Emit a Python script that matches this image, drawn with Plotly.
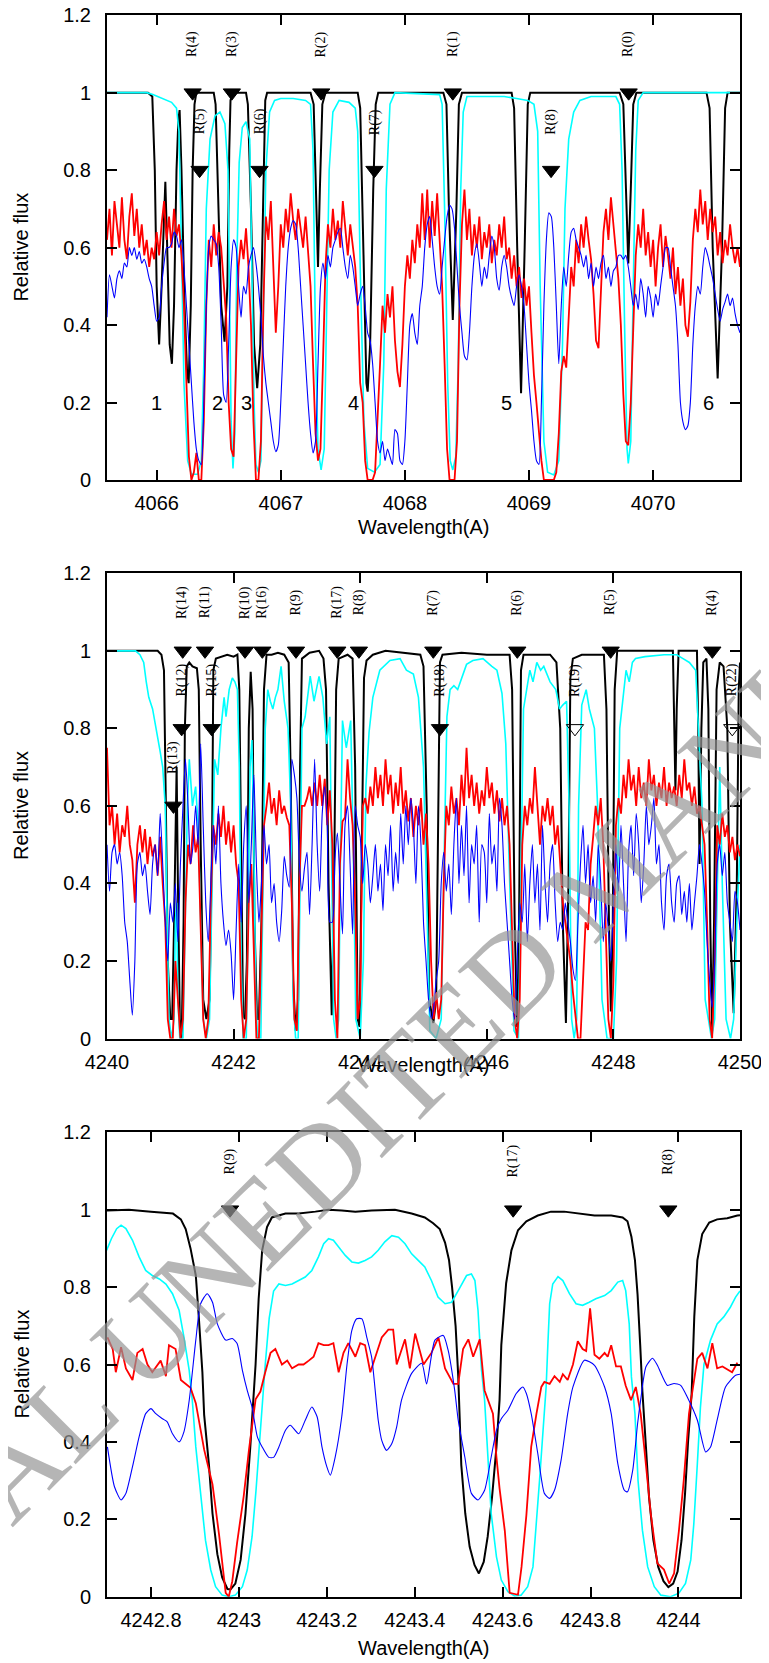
import plotly.graph_objects as go

# ---------------- Panel 1 (4065.6 - 4070.7) ----------------
p1_black = [(4065.60,1.0),(4065.93,1.0),(4065.965,0.99),(4065.985,0.8),(4066.0,0.5),(4066.02,0.35),(4066.04,0.5),
 (4066.06,0.72),(4066.07,0.77),(4066.085,0.6),(4066.105,0.35),(4066.123,0.30),(4066.14,0.45),(4066.16,0.8),
 (4066.175,0.93),(4066.185,0.955),(4066.2,0.8),(4066.225,0.45),(4066.245,0.28),(4066.258,0.25),(4066.275,0.45),
 (4066.29,0.8),(4066.305,0.97),(4066.32,1.0),(4066.46,1.0),(4066.475,0.97),(4066.495,0.75),(4066.52,0.45),
 (4066.547,0.357),(4066.57,0.5),(4066.585,0.85),(4066.595,0.98),(4066.61,1.0),(4066.72,1.0),(4066.735,0.97),
 (4066.76,0.7),(4066.785,0.35),(4066.81,0.237),(4066.835,0.35),(4066.86,0.8),(4066.875,0.98),(4066.89,1.0),
 (4067.24,1.0),(4067.265,0.97),(4067.285,0.75),(4067.30,0.55),(4067.315,0.75),(4067.335,0.97),(4067.36,1.0),
 (4067.62,1.0),(4067.64,0.96),(4067.665,0.6),(4067.69,0.25),(4067.70,0.228),(4067.72,0.35),(4067.745,0.75),
 (4067.765,0.97),(4067.785,1.0),(4068.31,1.0),(4068.335,0.97),(4068.355,0.7),(4068.386,0.413),(4068.415,0.7),
 (4068.435,0.97),(4068.46,1.0),(4068.86,1.0),(4068.88,0.96),(4068.905,0.6),(4068.936,0.224),(4068.965,0.6),
 (4068.99,0.97),(4069.01,1.0),(4069.73,1.0),(4069.76,0.97),(4069.78,0.75),(4069.80,0.559),(4069.82,0.75),
 (4069.84,0.97),(4069.865,1.0),(4070.43,1.0),(4070.455,0.96),(4070.48,0.6),(4070.52,0.262),(4070.555,0.6),
 (4070.58,0.96),(4070.6,1.0),(4070.7,1.0)]

p1_cyan = [(4065.6,1.0),(4065.92,1.0),(4065.97,0.995),(4066.05,0.985),(4066.12,0.975),(4066.16,0.96),(4066.18,0.9),
 (4066.2,0.6),(4066.22,0.25),(4066.25,0.05),(4066.28,0.015),(4066.33,0.015),(4066.36,0.05),(4066.38,0.3),
 (4066.40,0.7),(4066.43,0.88),(4066.47,0.94),(4066.51,0.95),(4066.55,0.92),(4066.575,0.8),(4066.59,0.45),
 (4066.60,0.15),(4066.615,0.03),(4066.63,0.12),(4066.645,0.55),(4066.665,0.82),(4066.69,0.91),(4066.72,0.925),
 (4066.75,0.88),(4066.765,0.6),(4066.785,0.2),(4066.80,0.04),(4066.82,0.02),(4066.84,0.05),(4066.86,0.4),
 (4066.88,0.8),(4066.91,0.95),(4066.95,0.98),(4067.0,0.985),(4067.1,0.985),(4067.2,0.98),(4067.24,0.97),
 (4067.26,0.85),(4067.28,0.35),(4067.30,0.08),(4067.325,0.026),(4067.35,0.08),(4067.37,0.4),(4067.39,0.8),
 (4067.42,0.95),(4067.47,0.98),(4067.55,0.975),(4067.6,0.96),(4067.62,0.9),(4067.64,0.55),(4067.67,0.15),
 (4067.70,0.03),(4067.755,0.02),(4067.80,0.04),(4067.83,0.3),(4067.85,0.75),(4067.88,0.97),(4067.92,1.0),
 (4068.28,0.995),(4068.30,0.97),(4068.32,0.7),(4068.345,0.25),(4068.365,0.05),(4068.386,0.026),(4068.41,0.06),
 (4068.43,0.3),(4068.45,0.75),(4068.47,0.95),(4068.5,0.99),(4068.8,0.99),(4068.9,0.985),(4068.99,0.98),
 (4069.04,0.97),(4069.07,0.9),(4069.09,0.5),(4069.12,0.1),(4069.15,0.02),(4069.2,0.013),(4069.24,0.05),
 (4069.27,0.35),(4069.29,0.7),(4069.32,0.88),(4069.36,0.95),(4069.41,0.98),(4069.5,0.99),(4069.7,0.99),
 (4069.73,0.97),(4069.75,0.8),(4069.77,0.4),(4069.79,0.08),(4069.80,0.043),(4069.82,0.1),(4069.84,0.5),
 (4069.86,0.85),(4069.88,0.98),(4069.92,1.0),(4070.7,1.0)]

P1_GRID_START = 4065.60
P1_GRID_STEP = 0.02
p1_red = [
 0.62,0.70,0.58,0.72,0.66,0.60,0.73,0.62,0.57,0.68,
 0.74,0.63,0.70,0.60,0.66,0.58,0.62,0.55,0.60,0.57,
 0.64,0.58,0.66,0.72,0.62,0.68,0.60,0.70,0.63,0.66,
 0.58,0.45,0.25,0.06,0.0,0.02,0.07,0.0,0.0,0.15,
 0.45,0.62,0.55,0.66,0.58,0.64,0.60,0.50,0.42,0.2,
 0.08,0.06,0.3,0.55,0.62,0.57,0.65,0.55,0.40,0.15,
 0.0,0.0,0.1,0.45,0.68,0.62,0.72,0.55,0.38,0.5,
 0.66,0.60,0.70,0.64,0.74,0.67,0.62,0.70,0.65,0.60,
 0.68,0.58,0.50,0.30,0.12,0.05,0.08,0.3,0.55,0.66,
 0.60,0.70,0.62,0.67,0.60,0.72,0.64,0.58,0.66,0.60,
 0.55,0.45,0.25,0.20,0.05,0.0,0.0,0.0,0.02,0.15,
 0.3,0.45,0.38,0.48,0.42,0.5,0.36,0.28,0.24,0.35,
 0.5,0.58,0.52,0.62,0.56,0.66,0.60,0.74,0.62,0.75,
 0.60,0.72,0.63,0.74,0.60,0.5,0.3,0.08,0.0,0.0,
 0.0,0.1,0.45,0.66,0.75,0.62,0.70,0.58,0.66,0.60,
 0.68,0.57,0.64,0.60,0.66,0.56,0.62,0.58,0.66,0.60,
 0.68,0.57,0.60,0.52,0.58,0.50,0.55,0.47,0.52,0.45,
 0.50,0.38,0.27,0.20,0.12,0.05,0.0,0.0,0.0,0.0,
 0.0,0.02,0.12,0.28,0.32,0.29,0.42,0.55,0.50,0.62,
 0.56,0.66,0.60,0.68,0.62,0.57,0.48,0.36,0.34,0.5,
 0.64,0.70,0.62,0.73,0.66,0.60,0.52,0.40,0.22,0.10,
 0.09,0.2,0.42,0.58,0.66,0.60,0.70,0.58,0.64,0.55,
 0.62,0.50,0.60,0.66,0.55,0.63,0.58,0.52,0.60,0.48,
 0.55,0.45,0.52,0.40,0.37,0.46,0.62,0.70,0.64,0.75,
 0.66,0.72,0.62,0.70,0.64,0.68,0.58,0.64,0.56,0.62,
 0.58,0.66,0.60,0.56,0.60,0.55]

p1_blue = [
 0.42,0.53,0.50,0.47,0.52,0.54,0.52,0.56,0.55,0.60,
 0.58,0.60,0.57,0.59,0.56,0.57,0.55,0.52,0.50,0.45,
 0.41,0.42,0.50,0.56,0.60,0.60,0.61,0.64,0.63,0.60,
 0.62,0.55,0.45,0.35,0.25,0.15,0.08,0.05,0.04,0.2,
 0.45,0.6,0.63,0.62,0.61,0.55,0.4,0.22,0.2,0.35,
 0.55,0.62,0.6,0.5,0.42,0.5,0.48,0.55,0.58,0.6,
 0.56,0.5,0.42,0.32,0.25,0.2,0.15,0.1,0.073,0.09,
 0.2,0.35,0.5,0.6,0.65,0.67,0.66,0.6,0.5,0.4,
 0.3,0.2,0.12,0.07,0.1,0.3,0.5,0.56,0.52,0.58,
 0.55,0.6,0.62,0.64,0.65,0.6,0.55,0.52,0.58,0.55,
 0.5,0.45,0.48,0.5,0.45,0.38,0.36,0.3,0.2,0.1,
 0.07,0.1,0.05,0.08,0.06,0.04,0.13,0.12,0.05,0.04,
 0.1,0.25,0.4,0.43,0.38,0.35,0.45,0.5,0.6,0.66,
 0.68,0.62,0.55,0.5,0.48,0.55,0.62,0.68,0.71,0.7,
 0.65,0.55,0.45,0.38,0.32,0.31,0.38,0.5,0.58,0.61,
 0.56,0.5,0.55,0.52,0.58,0.63,0.6,0.52,0.49,0.55,
 0.58,0.55,0.5,0.47,0.45,0.5,0.53,0.5,0.45,0.35,
 0.25,0.18,0.1,0.05,0.04,0.2,0.45,0.62,0.69,0.68,
 0.6,0.45,0.3,0.45,0.55,0.5,0.58,0.64,0.65,0.62,
 0.6,0.58,0.55,0.58,0.52,0.56,0.5,0.55,0.52,0.56,
 0.58,0.52,0.55,0.5,0.54,0.55,0.58,0.58,0.57,0.58,
 0.55,0.5,0.45,0.48,0.44,0.52,0.48,0.42,0.5,0.47,
 0.42,0.48,0.45,0.5,0.55,0.6,0.6,0.55,0.5,0.45,
 0.35,0.2,0.15,0.13,0.14,0.2,0.35,0.45,0.5,0.48,
 0.55,0.6,0.58,0.55,0.52,0.48,0.44,0.41,0.44,0.46,
 0.48,0.45,0.47,0.43,0.40,0.38]

p1_marks_top = [("R(4)",4066.29),("R(3)",4066.606),("R(2)",4067.326),("R(1)",4068.386),("R(0)",4069.803)]
p1_marks_low = [("R(5)",4066.346),("R(6)",4066.829),("R(7)",4067.755),("R(8)",4069.178)]
p1_numbers = [("1",4066.0),("2",4066.49),("3",4066.72),("4",4067.59),("5",4068.82),("6",4070.45)]

# ---------------- Panel 2 (4240 - 4250) ----------------
p2_black = [(4240.00,1.0),(4240.80,1.0),(4240.86,0.99),(4240.90,0.95),(4240.93,0.6),(4240.96,0.2),(4241.00,0.05),
 (4241.03,0.05),(4241.06,0.3),(4241.09,0.68),(4241.10,0.7),(4241.12,0.4),(4241.15,0.05),(4241.18,0.0),
 (4241.21,0.3),(4241.23,0.8),(4241.26,0.96),(4241.30,0.97),(4241.35,0.96),(4241.42,0.955),(4241.45,0.9),
 (4241.48,0.5),(4241.52,0.1),(4241.57,0.05),(4241.62,0.1),(4241.66,0.5),(4241.68,0.95),(4241.72,0.98),
 (4241.80,0.985),(4241.90,0.99),(4242.00,0.985),(4242.06,0.99),(4242.09,0.9),(4242.12,0.4),(4242.15,0.06),
 (4242.18,0.05),(4242.21,0.2),(4242.24,0.8),(4242.27,0.946),(4242.30,0.85),(4242.33,0.3),(4242.37,0.05),
 (4242.40,0.05),(4242.44,0.3),(4242.48,0.9),(4242.52,0.99),(4242.60,0.99),(4242.70,0.995),(4242.80,0.99),
 (4242.87,0.97),(4242.90,0.7),(4242.94,0.15),(4242.98,0.02),(4243.02,0.1),(4243.05,0.7),(4243.08,0.98),
 (4243.20,0.995),(4243.35,1.0),(4243.42,0.98),(4243.46,0.9),(4243.50,0.4),(4243.55,0.06),(4243.59,0.45),
 (4243.62,0.9),(4243.66,0.98),(4243.80,0.99),(4243.88,0.98),(4243.92,0.7),(4243.96,0.05),(4243.99,0.03),
 (4244.02,0.4),(4244.06,0.93),(4244.10,0.975),(4244.20,0.99),(4244.40,1.0),(4244.95,0.99),(4245.0,0.96),
 (4245.05,0.6),(4245.09,0.1),(4245.155,0.04),(4245.2,0.1),(4245.23,0.6),(4245.26,0.97),(4245.3,0.99),
 (4245.6,0.995),(4246.0,0.99),(4246.36,0.99),(4246.40,0.9),(4246.44,0.3),(4246.48,0.03),(4246.51,0.3),
 (4246.54,0.95),(4246.58,0.99),(4247.0,0.99),(4247.1,0.97),(4247.16,0.8),(4247.2,0.3),(4247.25,0.04),
 (4247.29,0.4),(4247.32,0.93),(4247.36,0.98),(4247.5,0.99),(4247.85,0.99),(4247.89,0.85),(4247.93,0.3),
 (4247.96,0.07),(4247.99,0.3),(4248.02,0.9),(4248.06,1.0),(4248.94,1.0),(4248.96,0.85),(4248.98,0.64),
 (4249.0,0.85),(4249.03,1.0),(4249.32,1.0),(4249.34,0.8),(4249.36,0.45),(4249.39,0.8),(4249.42,0.97),
 (4249.47,0.98),(4249.5,0.85),(4249.53,0.3),(4249.56,0.02),(4249.59,0.3),(4249.63,0.9),(4249.68,0.97),
 (4249.74,0.96),(4249.80,0.8),(4249.84,0.3),(4249.90,0.065),(4249.95,0.4),(4249.98,0.9),(4250.0,0.97)]

p2_cyan = [(4240.00,1.0),(4240.45,1.0),(4240.52,0.99),(4240.58,0.97),(4240.62,0.92),(4240.66,0.88),(4240.72,0.85),
 (4240.78,0.8),(4240.84,0.74),(4240.88,0.7),(4240.92,0.6),(4240.95,0.3),(4240.98,0.05),(4241.02,0.0),
 (4241.06,0.05),(4241.08,0.3),(4241.1,0.35),(4241.12,0.1),(4241.15,0.0),(4241.2,0.0),(4241.24,0.3),
 (4241.27,0.6),(4241.30,0.72),(4241.35,0.6),(4241.40,0.65),(4241.44,0.55),(4241.48,0.3),(4241.52,0.05),
 (4241.57,0.0),(4241.62,0.05),(4241.66,0.4),(4241.70,0.72),(4241.75,0.68),(4241.80,0.8),(4241.85,0.88),
 (4241.88,0.83),(4241.93,0.9),(4241.98,0.93),(4242.02,0.92),(4242.06,0.9),(4242.09,0.7),(4242.12,0.2),
 (4242.15,0.0),(4242.2,0.0),(4242.23,0.3),(4242.26,0.7),(4242.29,0.77),(4242.32,0.5),(4242.35,0.1),
 (4242.38,0.0),(4242.43,0.0),(4242.47,0.4),(4242.50,0.8),(4242.54,0.9),(4242.58,0.87),(4242.62,0.85),
 (4242.66,0.88),(4242.70,0.9),(4242.75,0.96),(4242.80,0.87),(4242.86,0.8),(4242.90,0.61),(4242.94,0.1),
 (4242.98,0.0),(4243.02,0.0),(4243.05,0.4),(4243.08,0.8),(4243.13,0.83),(4243.21,0.935),(4243.27,0.87),
 (4243.35,0.934),(4243.41,0.88),(4243.47,0.76),(4243.52,0.83),(4243.55,0.4),(4243.58,0.05),(4243.62,0.0),
 (4243.66,0.05),(4243.69,0.5),(4243.72,0.82),(4243.78,0.75),(4243.85,0.82),(4243.89,0.5),(4243.93,0.05),
 (4244.0,0.0),(4244.05,0.2),(4244.09,0.65),(4244.14,0.79),(4244.2,0.88),(4244.31,0.95),(4244.47,0.975),
 (4244.63,0.98),(4244.73,0.95),(4244.84,0.94),(4244.92,0.88),(4245.0,0.7),(4245.06,0.3),(4245.1,0.02),
 (4245.2,0.0),(4245.28,0.05),(4245.33,0.5),(4245.37,0.83),(4245.42,0.9),(4245.48,0.91),(4245.54,0.9),
 (4245.6,0.93),(4245.68,0.965),(4245.78,0.975),(4245.94,0.98),(4246.08,0.96),(4246.16,0.95),(4246.24,0.89),
 (4246.3,0.76),(4246.38,0.3),(4246.43,0.02),(4246.5,0.0),(4246.54,0.4),(4246.58,0.85),(4246.68,0.95),
 (4246.73,0.92),(4246.79,0.97),(4246.85,0.95),(4246.9,0.96),(4247.0,0.92),(4247.09,0.9),(4247.15,0.85),
 (4247.2,0.86),(4247.26,0.87),(4247.3,0.6),(4247.34,0.05),(4247.38,0.0),(4247.42,0.05),(4247.45,0.6),
 (4247.5,0.86),(4247.57,0.9),(4247.62,0.85),(4247.7,0.8),(4247.75,0.6),(4247.82,0.1),(4247.9,0.0),
 (4248.0,0.0),(4248.05,0.2),(4248.1,0.8),(4248.15,0.88),(4248.2,0.95),(4248.25,0.92),(4248.3,0.97),
 (4248.35,0.98),(4248.5,0.985),(4248.8,0.99),(4249.0,0.99),(4249.1,0.98),(4249.2,0.97),(4249.3,0.95),
 (4249.4,0.6),(4249.45,0.1),(4249.55,0.0),(4249.6,0.05),(4249.65,0.5),(4249.68,0.7),(4249.72,0.4),
 (4249.78,0.05),(4249.85,0.0),(4249.9,0.05),(4249.95,0.3),(4250.0,0.5)]

P2_GRID_START = 4240.00
P2_GRID_STEP = 0.04
p2_red = [
 0.75,0.55,0.6,0.5,0.58,0.48,0.55,0.52,0.6,0.5,0.46,0.35,0.5,0.55,0.48,0.54,0.45,0.52,0.47,0.5,0.42,0.52,0.4,0.3,0.05,
 0.0,0.0,0.2,0.1,0.0,0.05,0.35,0.5,0.45,0.55,0.48,0.52,0.3,0.05,0.0,0.05,0.35,0.55,0.5,0.58,0.52,0.6,0.5,0.56,0.48,
 0.55,0.45,0.4,0.1,0.0,0.05,0.35,0.45,0.2,0.0,0.0,0.3,0.55,0.6,0.66,0.58,0.62,0.55,0.64,0.58,0.6,0.57,0.55,0.35,0.05,
 0.02,0.4,0.6,0.6,0.62,0.65,0.6,0.66,0.6,0.68,0.6,0.67,0.55,0.64,0.5,0.1,0.0,0.45,0.56,0.57,0.72,0.62,0.55,0.35,0.05,
 0.1,0.6,0.62,0.58,0.65,0.6,0.7,0.62,0.68,0.6,0.72,0.63,0.68,0.58,0.66,0.6,0.7,0.58,0.64,0.56,0.62,0.52,0.6,0.55,0.62,
 0.5,0.58,0.45,0.2,0.05,0.12,0.05,0.1,0.4,0.6,0.55,0.65,0.58,0.62,0.55,0.68,0.6,0.75,0.62,0.68,0.6,0.66,0.58,0.64,0.6,
 0.7,0.62,0.66,0.58,0.64,0.56,0.62,0.55,0.6,0.5,0.3,0.05,0.0,0.1,0.5,0.6,0.55,0.62,0.58,0.7,0.6,0.5,0.6,0.56,0.62,
 0.55,0.6,0.5,0.55,0.45,0.35,0.3,0.25,0.2,0.12,0.05,0.0,0.0,0.15,0.3,0.28,0.45,0.52,0.6,0.55,0.62,0.5,0.3,0.05,0.0,
 0.15,0.55,0.62,0.58,0.68,0.62,0.72,0.64,0.68,0.6,0.7,0.62,0.66,0.6,0.72,0.64,0.68,0.6,0.66,0.62,0.7,0.6,0.66,0.62,0.65,
 0.6,0.68,0.62,0.72,0.64,0.66,0.6,0.65,0.58,0.6,0.55,0.5,0.3,0.05,0.0,0.2,0.55,0.5,0.58,0.52,0.55,0.48,0.52,0.46,0.5,
 0.47]

p2_blue = [
 0.5,0.38,0.48,0.5,0.45,0.48,0.42,0.3,0.25,0.15,0.06,0.2,0.45,0.48,0.42,0.45,0.38,0.32,0.45,0.5,0.42,0.58,0.45,0.3,0.2,
 0.35,0.3,0.4,0.25,0.45,0.6,0.72,0.6,0.45,0.5,0.6,0.5,0.76,0.55,0.35,0.25,0.4,0.55,0.45,0.6,0.4,0.3,0.24,0.28,0.22,
 0.1,0.28,0.45,0.3,0.5,0.6,0.35,0.5,0.68,0.45,0.3,0.4,0.55,0.45,0.5,0.35,0.4,0.3,0.25,0.33,0.47,0.42,0.39,0.72,0.68,
 0.62,0.45,0.38,0.44,0.48,0.32,0.5,0.72,0.5,0.38,0.58,0.65,0.55,0.3,0.3,0.46,0.53,0.4,0.27,0.55,0.6,0.45,0.27,0.6,0.55,
 0.52,0.4,0.5,0.45,0.35,0.42,0.5,0.38,0.45,0.33,0.5,0.42,0.55,0.38,0.48,0.4,0.58,0.45,0.6,0.5,0.62,0.55,0.4,0.6,0.5,
 0.3,0.2,0.1,0.05,0.08,0.15,0.2,0.4,0.48,0.38,0.45,0.32,0.5,0.62,0.4,0.55,0.42,0.6,0.35,0.5,0.45,0.55,0.3,0.5,0.48,
 0.35,0.58,0.45,0.5,0.38,0.62,0.55,0.4,0.3,0.2,0.1,0.05,0.2,0.35,0.3,0.45,0.25,0.4,0.5,0.35,0.45,0.28,0.55,0.4,0.3,
 0.45,0.5,0.35,0.25,0.3,0.28,0.35,0.3,0.25,0.18,0.15,0.3,0.45,0.55,0.4,0.5,0.35,0.42,0.3,0.5,0.4,0.25,0.35,0.28,0.2,
 0.35,0.5,0.38,0.55,0.4,0.25,0.48,0.55,0.42,0.58,0.5,0.35,0.45,0.6,0.5,0.55,0.62,0.45,0.5,0.35,0.28,0.42,0.45,0.35,0.3,
 0.4,0.42,0.32,0.38,0.3,0.4,0.28,0.35,0.42,0.5,0.45,0.38,0.25,0.15,0.08,0.2,0.45,0.5,0.42,0.48,0.35,0.3,0.25,0.38,0.35,
 0.28]

p2_marks_top = [("R(14)",4241.196),("R(11)",4241.548),("R(10)",4242.18),("R(16)",4242.454),("R(9)",4242.986),
 ("R(17)",4243.638),("R(8)",4243.98),("R(7)",4245.155),("R(6)",4246.482),("R(5)",4247.957),("R(4)",4249.563)]
p2_marks_mid = [("R(12)",4241.18),("R(15)",4241.654),("R(18)",4245.26)]
p2_marks_mid_open = [("R(19)",4247.393),("R(22)",4249.878)]
p2_marks_low = [("R(13)",4241.05)]

# ---------------- Panel 3 (4242.7 - 4244.14) ----------------
p3_black = [(4242.70,0.998),(4242.75,1.0),(4242.80,0.995),(4242.85,0.99),(4242.868,0.975),(4242.879,0.95),
 (4242.89,0.9),(4242.902,0.83),(4242.909,0.72),(4242.917,0.58),(4242.921,0.47),(4242.932,0.34),(4242.94,0.215),
 (4242.951,0.11),(4242.962,0.05),(4242.974,0.02),(4242.981,0.019),(4242.992,0.034),(4243.004,0.095),
 (4243.015,0.215),(4243.026,0.387),(4243.034,0.533),(4243.038,0.6),(4243.045,0.77),(4243.053,0.895),
 (4243.064,0.955),(4243.075,0.98),(4243.106,0.99),(4243.136,0.99),(4243.174,0.995),(4243.204,1.0),
 (4243.234,0.998),(4243.265,0.995),(4243.302,0.998),(4243.355,1.0),(4243.393,0.99),(4243.423,0.98),
 (4243.442,0.965),(4243.457,0.95),(4243.469,0.915),(4243.478,0.87),(4243.485,0.8),(4243.493,0.7),
 (4243.499,0.57),(4243.506,0.34),(4243.515,0.215),(4243.525,0.129),(4243.536,0.082),(4243.546,0.06),
 (4243.557,0.09),(4243.566,0.155),(4243.576,0.258),(4243.586,0.387),(4243.593,0.508),(4243.597,0.65),
 (4243.608,0.81),(4243.620,0.895),(4243.635,0.947),(4243.654,0.97),(4243.680,0.985),(4243.71,0.995),
 (4243.74,0.995),(4243.771,0.99),(4243.809,0.985),(4243.847,0.985),(4243.873,0.98),(4243.884,0.97),
 (4243.893,0.93),(4243.901,0.87),(4243.907,0.78),(4243.913,0.65),(4243.918,0.53),(4243.926,0.387),
 (4243.933,0.258),(4243.943,0.146),(4243.954,0.077),(4243.966,0.04),(4243.977,0.025),(4243.988,0.034),
 (4243.998,0.065),(4244.007,0.146),(4244.015,0.267),(4244.022,0.404),(4244.03,0.525),(4244.036,0.723),
 (4244.043,0.87),(4244.054,0.937),(4244.07,0.967),(4244.088,0.975),(4244.111,0.978),(4244.134,0.985),
 (4244.14,0.986)]

p3_cyan = [(4242.699,0.895),(4242.71,0.925),(4242.722,0.951),(4242.732,0.96),(4242.743,0.951),(4242.758,0.921),
 (4242.773,0.878),(4242.788,0.843),(4242.803,0.83),(4242.819,0.821),(4242.834,0.808),(4242.849,0.783),
 (4242.864,0.74),(4242.875,0.671),(4242.887,0.585),(4242.894,0.508),(4242.902,0.387),(4242.913,0.258),
 (4242.924,0.146),(4242.936,0.069),(4242.947,0.026),(4242.962,0.004),(4242.977,0.0),(4242.992,0.004),
 (4243.008,0.026),(4243.019,0.069),(4243.030,0.155),(4243.039,0.275),(4243.047,0.404),(4243.054,0.525),
 (4243.06,0.6),(4243.069,0.72),(4243.079,0.79),(4243.091,0.808),(4243.106,0.804),(4243.121,0.808),
 (4243.136,0.817),(4243.151,0.826),(4243.166,0.843),(4243.181,0.878),(4243.193,0.912),(4243.204,0.925),
 (4243.215,0.921),(4243.227,0.904),(4243.242,0.882),(4243.257,0.865),(4243.272,0.862),(4243.287,0.869),
 (4243.302,0.878),(4243.317,0.895),(4243.332,0.917),(4243.348,0.933),(4243.363,0.929),(4243.378,0.912),
 (4243.393,0.886),(4243.408,0.869),(4243.423,0.852),(4243.438,0.817),(4243.453,0.774),(4243.469,0.757),
 (4243.484,0.761),(4243.499,0.791),(4243.518,0.83),(4243.529,0.834),(4243.537,0.817),(4243.544,0.74),
 (4243.552,0.585),(4243.559,0.508),(4243.567,0.344),(4243.574,0.215),(4243.586,0.103),(4243.597,0.043),
 (4243.612,0.013),(4243.627,0.002),(4243.642,0.004),(4243.657,0.026),(4243.669,0.077),(4243.676,0.172),
 (4243.684,0.301),(4243.692,0.43),(4243.699,0.542),(4243.703,0.654),(4243.707,0.757),(4243.714,0.808),
 (4243.726,0.827),(4243.737,0.817),(4243.752,0.783),(4243.767,0.757),(4243.782,0.753),(4243.797,0.761),
 (4243.812,0.77),(4243.832,0.778),(4243.847,0.791),(4243.862,0.813),(4243.873,0.817),(4243.88,0.791),
 (4243.888,0.705),(4243.893,0.568),(4243.901,0.473),(4243.908,0.301),(4243.918,0.172),(4243.93,0.077),
 (4243.945,0.026),(4243.96,0.004),(4243.982,0.0),(4244.001,0.009),(4244.016,0.034),(4244.028,0.095),
 (4244.035,0.189),(4244.043,0.344),(4244.05,0.49),(4244.058,0.6),(4244.073,0.663),(4244.088,0.705),
 (4244.103,0.723),(4244.118,0.748),(4244.13,0.774),(4244.14,0.79)]

p3_red = [(4242.701,0.67),(4242.713,0.64),(4242.720,0.58),(4242.732,0.645),(4242.743,0.59),(4242.758,0.56),
 (4242.769,0.63),(4242.781,0.64),(4242.792,0.60),(4242.803,0.58),(4242.822,0.61),(4242.834,0.57),(4242.841,0.65),
 (4242.856,0.64),(4242.868,0.56),(4242.879,0.55),(4242.890,0.54),(4242.902,0.5),(4242.921,0.38),(4242.940,0.29),
 (4242.955,0.16),(4242.970,0.01),(4242.977,0.0),(4242.985,0.04),(4242.996,0.14),(4243.011,0.26),(4243.023,0.38),
 (4243.038,0.51),(4243.049,0.53),(4243.060,0.58),(4243.072,0.63),(4243.083,0.64),(4243.098,0.60),(4243.110,0.61),
 (4243.121,0.59),(4243.136,0.60),(4243.147,0.60),(4243.159,0.61),(4243.170,0.62),(4243.181,0.655),(4243.193,0.65),
 (4243.204,0.65),(4243.215,0.655),(4243.227,0.58),(4243.238,0.63),(4243.249,0.655),(4243.265,0.62),(4243.276,0.655),
 (4243.287,0.65),(4243.299,0.58),(4243.310,0.62),(4243.325,0.67),(4243.340,0.69),(4243.351,0.69),(4243.359,0.60),
 (4243.378,0.665),(4243.389,0.59),(4243.401,0.68),(4243.420,0.60),(4243.438,0.63),(4243.454,0.67),(4243.469,0.59),
 (4243.488,0.55),(4243.499,0.55),(4243.510,0.64),(4243.522,0.665),(4243.533,0.62),(4243.548,0.665),(4243.559,0.533),
 (4243.578,0.473),(4243.586,0.36),(4243.593,0.28),(4243.605,0.17),(4243.616,0.01),(4243.635,0.005),(4243.643,0.077),
 (4243.654,0.21),(4243.665,0.387),(4243.677,0.473),(4243.688,0.542),(4243.695,0.555),(4243.707,0.55),(4243.718,0.57),
 (4243.73,0.555),(4243.737,0.575),(4243.748,0.56),(4243.76,0.6),(4243.771,0.66),(4243.782,0.64),(4243.79,0.635),
 (4243.799,0.745),(4243.809,0.625),(4243.82,0.615),(4243.832,0.63),(4243.839,0.62),(4243.847,0.65),(4243.858,0.595),
 (4243.869,0.595),(4243.88,0.545),(4243.892,0.508),(4243.903,0.542),(4243.914,0.473),(4243.922,0.387),
 (4243.937,0.215),(4243.952,0.086),(4243.967,0.07),(4243.979,0.034),(4243.99,0.06),(4244.001,0.17),(4244.012,0.30),
 (4244.024,0.473),(4244.035,0.56),(4244.043,0.615),(4244.054,0.63),(4244.066,0.59),(4244.077,0.655),(4244.088,0.59),
 (4244.1,0.595),(4244.111,0.587),(4244.122,0.58),(4244.134,0.605)]

p3_blue = [(4242.701,0.387),(4242.717,0.284),(4242.732,0.25),(4242.743,0.267),(4242.758,0.336),(4242.773,0.413),
 (4242.788,0.473),(4242.800,0.486),(4242.811,0.473),(4242.826,0.46),(4242.837,0.452),(4242.849,0.421),(4242.864,0.4),
 (4242.875,0.426),(4242.887,0.507),(4242.902,0.663),(4242.913,0.757),(4242.928,0.783),(4242.940,0.761),
 (4242.951,0.705),(4242.970,0.663),(4242.985,0.667),(4242.996,0.654),(4243.008,0.585),(4243.019,0.533),
 (4243.030,0.49),(4243.042,0.413),(4243.053,0.387),(4243.068,0.36),(4243.079,0.36),(4243.091,0.387),(4243.106,0.43),
 (4243.117,0.443),(4243.136,0.421),(4243.151,0.456),(4243.166,0.49),(4243.178,0.465),(4243.189,0.387),(4243.2,0.336),
 (4243.208,0.314),(4243.219,0.36),(4243.234,0.465),(4243.246,0.60),(4243.257,0.688),(4243.268,0.718),(4243.280,0.718),
 (4243.291,0.67),(4243.302,0.619),(4243.317,0.456),(4243.325,0.404),(4243.336,0.378),(4243.348,0.396),(4243.359,0.439),
 (4243.370,0.508),(4243.393,0.577),(4243.416,0.603),(4243.427,0.55),(4243.446,0.663),(4243.465,0.675),(4243.476,0.637),
 (4243.491,0.533),(4243.499,0.456),(4243.514,0.361),(4243.529,0.267),(4243.544,0.25),(4243.559,0.275),(4243.574,0.361),
 (4243.586,0.43),(4243.597,0.46),(4243.612,0.482),(4243.631,0.525),(4243.646,0.542),(4243.654,0.525),(4243.665,0.473),
 (4243.680,0.37),(4243.695,0.267),(4243.707,0.254),(4243.718,0.275),(4243.733,0.353),(4243.748,0.473),(4243.760,0.542),
 (4243.786,0.611),(4243.809,0.598),(4243.832,0.542),(4243.847,0.473),(4243.862,0.344),(4243.877,0.275),(4243.884,0.271),
 (4243.896,0.327),(4243.907,0.447),(4243.914,0.508),(4243.926,0.594),(4243.941,0.616),(4243.952,0.598),(4243.975,0.546),
 (4243.990,0.551),(4244.005,0.546),(4244.02,0.516),(4244.043,0.456),(4244.062,0.374),(4244.073,0.387),(4244.088,0.456),
 (4244.107,0.542),(4244.130,0.572),(4244.14,0.575)]

p3_marks_top = [("R(9)",4242.98),("R(17)",4243.624),("R(8)",4243.977)]

# axis tick labels
y_ticks = [0, 0.2, 0.4, 0.6, 0.8, 1.0, 1.2]
y_tick_text = ["0", "0.2", "0.4", "0.6", "0.8", "1", "1.2"]
p1_xticks = [4066, 4067, 4068, 4069, 4070]
p2_xticks = [4240, 4242, 4244, 4246, 4248, 4250]
p3_xticks = [4242.8, 4243.0, 4243.2, 4243.4, 4243.6, 4243.8, 4244.0]
p3_xtick_text = ["4242.8", "4243", "4243.2", "4243.4", "4243.6", "4243.8", "4244"]

assert len(p1_red) == 256 and len(p1_blue) == 256, (len(p1_red), len(p1_blue))
assert len(p2_red) == 251 and len(p2_blue) == 251, (len(p2_red), len(p2_blue))

# ---------------- figure ----------------
# the page body has an 8px default margin, so the figure is sized/positioned to fill the window exactly
OFF = 8
W, H = 769 - OFF, 1663 - OFF


def PX(px):
    return (px - OFF) / W


def PY(py):
    return 1 - (py - OFF) / H


fig = go.Figure()
XDOM = [PX(107), PX(740)]
YDOMS = [[PY(480), PY(15.2)], [PY(1038.5), PY(573.3)], [PY(1596.7), PY(1132.3)]]
SANS = "Liberation Sans, Arial, sans-serif"
SERIF = "Liberation Serif, Times New Roman, serif"


def unzip(pairs):
    return [p[0] for p in pairs], [p[1] for p in pairs]


def grid(start, step, vals):
    return [round(start + i * step, 4) for i in range(len(vals))]


def add_curves(k, black, cyan, red_x, red_y, blue_x, blue_y):
    xa, ya = ("x", "y") if k == 1 else ("x%d" % k, "y%d" % k)
    bx, by = unzip(black)
    cx, cy = unzip(cyan)
    fig.add_trace(go.Scatter(x=bx, y=by, mode="lines", line=dict(color="black", width=2), xaxis=xa, yaxis=ya,
                             showlegend=False, hoverinfo="skip"))
    fig.add_trace(go.Scatter(x=cx, y=cy, mode="lines", line=dict(color="#00ffff", width=1.6), xaxis=xa, yaxis=ya,
                             showlegend=False, hoverinfo="skip"))
    fig.add_trace(go.Scatter(x=red_x, y=red_y, mode="lines", line=dict(color="#ff0000", width=1.8), xaxis=xa, yaxis=ya,
                             showlegend=False, hoverinfo="skip"))
    fig.add_trace(go.Scatter(x=blue_x, y=blue_y, mode="lines", line=dict(color="#0000ff", width=1.1, shape="spline",
                             smoothing=0.6), xaxis=xa, yaxis=ya, showlegend=False, hoverinfo="skip"))


def add_marks(k, marks, level, open_=False):
    xa, ya = ("x", "y") if k == 1 else ("x%d" % k, "y%d" % k)
    xs = [m[1] for m in marks]
    fig.add_trace(go.Scatter(
        x=xs, y=[level] * len(xs), mode="markers", xaxis=xa, yaxis=ya, showlegend=False, hoverinfo="skip",
        cliponaxis=False,
        marker=dict(symbol="triangle-down-open" if open_ else "triangle-down", size=15, color="black",
                    line=dict(color="black", width=1))))
    for name, xv in marks:
        fig.add_annotation(x=xv, y=level + 0.125, xref=xa, yref=ya, text=name, textangle=-90, showarrow=False,
                           font=dict(family=SERIF, size=14, color="black"), xanchor="center", yanchor="middle")


# panel 1
add_curves(1, p1_black, p1_cyan, grid(P1_GRID_START, P1_GRID_STEP, p1_red), p1_red,
           grid(P1_GRID_START, P1_GRID_STEP, p1_blue), p1_blue)
add_marks(1, p1_marks_top, 1.0)
add_marks(1, p1_marks_low, 0.8)
for t, xv in p1_numbers:
    fig.add_annotation(x=xv, y=0.2, xref="x", yref="y", text=t, showarrow=False,
                       font=dict(family=SANS, size=20, color="black"))

# panel 2
add_curves(2, p2_black, p2_cyan, grid(P2_GRID_START, P2_GRID_STEP, p2_red), p2_red,
           grid(P2_GRID_START, P2_GRID_STEP, p2_blue), p2_blue)
add_marks(2, p2_marks_top, 1.0)
add_marks(2, p2_marks_mid, 0.8)
add_marks(2, p2_marks_mid_open, 0.8, open_=True)
add_marks(2, p2_marks_low, 0.6)

# panel 3
r3x, r3y = unzip(p3_red)
b3x, b3y = unzip(p3_blue)
add_curves(3, p3_black, p3_cyan, r3x, r3y, b3x, b3y)
add_marks(3, p3_marks_top, 1.0)

ranges = [[4065.6, 4070.7], [4240, 4250], [4242.7, 4244.14]]
xticks = [(p1_xticks, [str(v) for v in p1_xticks]), (p2_xticks, [str(v) for v in p2_xticks]), (p3_xticks, p3_xtick_text)]
axis_common = dict(showgrid=False, zeroline=False, showline=True, linecolor="black", linewidth=2, mirror="ticks",
                   ticks="inside", ticklen=10, tickwidth=1.5, tickcolor="black", automargin=False,
                   ticklabeloverflow="allow", tickfont=dict(family=SANS, size=20, color="black"))
for i in range(3):
    k = i + 1
    xname = "xaxis" if k == 1 else "xaxis%d" % k
    yname = "yaxis" if k == 1 else "yaxis%d" % k
    fig.update_layout(**{
        xname: dict(domain=XDOM, range=ranges[i], anchor="y" if k == 1 else "y%d" % k,
                    tickvals=xticks[i][0], ticktext=xticks[i][1], ticklabelstandoff=4, **axis_common),
        yname: dict(domain=YDOMS[i], range=[0, 1.2], anchor="x" if k == 1 else "x%d" % k,
                    tickvals=y_ticks, ticktext=y_tick_text, ticklabelstandoff=10, **axis_common),
    })
    ymid = (YDOMS[i][0] + YDOMS[i][1]) / 2
    fig.add_annotation(x=PX(21), y=ymid, xref="paper", yref="paper", text="Relative flux", textangle=-90,
                       showarrow=False, font=dict(family=SANS, size=20, color="black"),
                       xanchor="center", yanchor="middle")

for yp in [527, 1065, 1648]:
    fig.add_annotation(x=PX(423.5), y=PY(yp), xref="paper", yref="paper", text="Wavelength(A)",
                       showarrow=False, font=dict(family=SANS, size=20, color="black"),
                       xanchor="center", yanchor="middle")

# watermark
fig.add_annotation(x=PX(398), y=PY(1084), xref="paper", yref="paper", text="ORIGINAL UNEDITED MANUSCRIPT",
                   textangle=-45, showarrow=False, xanchor="center", yanchor="middle",
                   font=dict(family=SERIF, size=120, color="rgba(150,150,150,0.7)"))

fig.update_layout(width=W, height=H, margin=dict(l=0, r=0, t=0, b=0), paper_bgcolor="white",
                  plot_bgcolor="white", showlegend=False)

fig.write_html("out.html")
